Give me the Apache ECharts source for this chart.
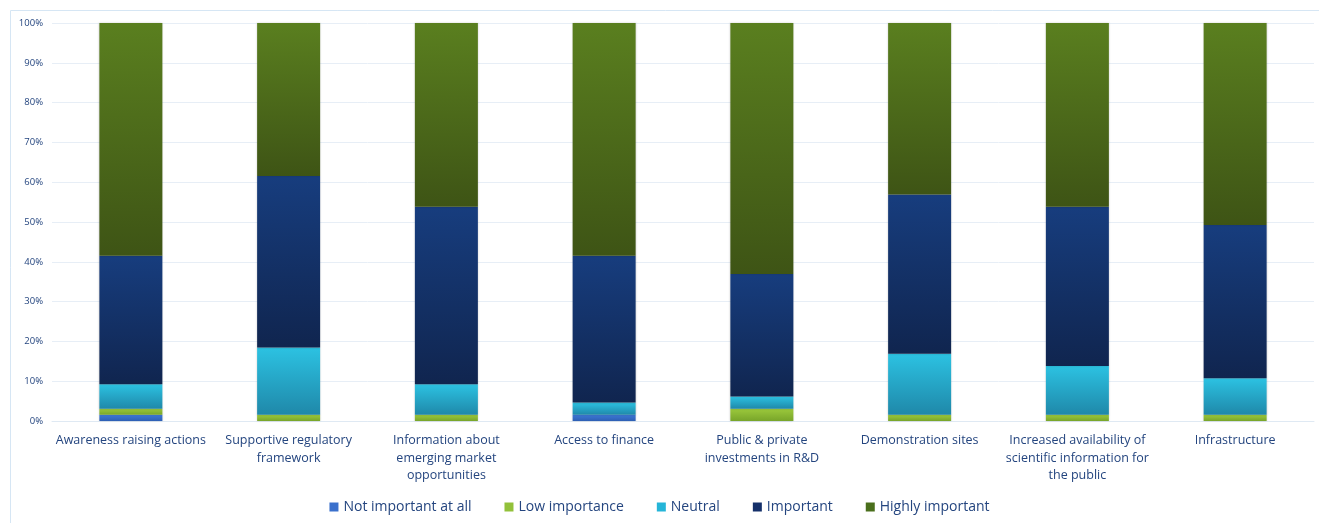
<!DOCTYPE html>
<html>
<head>
<meta charset="utf-8">
<script src="https://cdn.jsdelivr.net/npm/echarts@6/dist/echarts.min.js"></script>
<style>
  html, body { margin: 0; padding: 0; background: #ffffff; }
  #chart { width: 1319px; height: 523px; }
</style>
</head>
<body>
<div id="chart"></div>
<script>
// Survey factors (labels wrapped as drawn under each bar)
const categories = [
  'Awareness raising actions',
  'Supportive regulatory\nframework',
  'Information about\nemerging market\nopportunities',
  'Access to finance',
  'Public & private\ninvestments in R&D',
  'Demonstration sites',
  'Increased availability of\nscientific information for\nthe public',
  'Infrastructure'
];

// Share of respondents (%) per importance level
const notImportant   = [1.54, 0,     0,     1.54,  0,     0,     0,     0];
const lowImportance  = [1.54, 1.54,  1.54,  0,     3.08,  1.54,  1.54,  1.54];
const neutral        = [6.15, 16.92, 7.69,  3.08,  3.08,  15.38, 12.31, 9.23];
const important      = [32.31, 43.08, 44.62, 36.92, 30.77, 40.00, 40.00, 38.46];
const highlyImportant = [58.46, 38.46, 46.15, 58.46, 63.08, 43.08, 46.15, 50.77];

const yTicks = [0, 10, 20, 30, 40, 50, 60, 70, 80, 90, 100];

const textBlue = '#24457f';

function grad(top, bottom) {
  return new echarts.graphic.LinearGradient(0, 0, 0, 1, [
    { offset: 0, color: top },
    { offset: 1, color: bottom }
  ]);
}

const seriesDefs = [
  { name: 'Not important at all', data: notImportant, legend: '#3a70cc', top: '#3d78d6', bottom: '#2d5fb4' },
  { name: 'Low importance', data: lowImportance, legend: '#92c13a', top: '#9cc93c', bottom: '#78a52a' },
  { name: 'Neutral', data: neutral, legend: '#25b5d8', top: '#2cc2e2', bottom: '#1f88a9' },
  { name: 'Important', data: important, legend: '#15306a', top: '#173d7e', bottom: '#10254f' },
  { name: 'Highly important', data: highlyImportant, legend: '#4a6f1c', top: '#5a7f1f', bottom: '#3e5415' }
];

const chart = echarts.init(document.getElementById('chart'), null, { renderer: 'canvas' });

chart.setOption({
  backgroundColor: '#ffffff',
  animation: false,
  graphic: [{
    type: 'rect',
    shape: { x: 10.5, y: 10.5, width: 1330, height: 540 },
    style: { fill: 'none', stroke: '#d6e6f4', lineWidth: 1 },
    silent: true,
    z: -10
  }],
  grid: { left: 52, right: 5, top: 23, bottom: 102, containLabel: false },
  legend: {
    bottom: 4,
    left: 'center',
    itemWidth: 9,
    itemHeight: 9,
    itemGap: 33,
    icon: 'rect',
    textStyle: { color: textBlue, fontFamily: 'Open Sans', fontSize: 14 },
    data: seriesDefs.map(s => ({ name: s.name, itemStyle: { color: s.legend } }))
  },
  xAxis: {
    type: 'category',
    data: categories,
    axisLine: { show: true, lineStyle: { color: '#dfe9f3', width: 1 } },
    axisTick: { show: false },
    axisLabel: {
      color: textBlue,
      fontFamily: 'Open Sans',
      fontSize: 12.5,
      lineHeight: 17.5,
      margin: 11,
      interval: 0
    }
  },
  yAxis: {
    type: 'value',
    min: yTicks[0],
    max: yTicks[yTicks.length - 1],
    interval: 10,
    axisLine: { show: false },
    axisTick: { show: false },
    splitLine: { lineStyle: { color: '#e7eef6', width: 1 } },
    axisLabel: {
      formatter: '{value}%',
      color: textBlue,
      fontFamily: 'Open Sans',
      fontSize: 9.5,
      margin: 9
    }
  },
  series: seriesDefs.map(s => ({
    name: s.name,
    type: 'bar',
    stack: 'total',
    barWidth: 63,
    data: s.data,
    itemStyle: {
      color: grad(s.top, s.bottom),
      shadowColor: 'rgba(0,0,0,0.18)',
      shadowBlur: 2
    },
    emphasis: { disabled: true }
  }))
});
</script>
</body>
</html>
